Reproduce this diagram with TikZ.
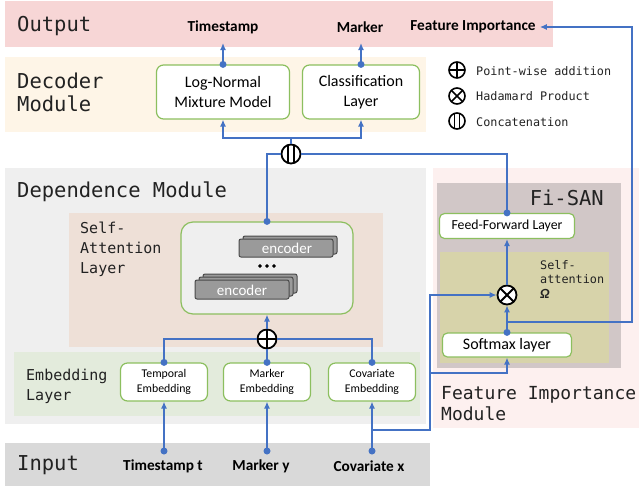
\documentclass[tikz,border=0pt]{standalone}
\usepackage{fontspec}
\setmainfont{Carlito}
\setmonofont{DejaVu Sans Mono}
\usetikzlibrary{arrows.meta,calc}
\definecolor{bOut}{HTML}{F7D6D6}
\definecolor{bDec}{HTML}{FEF5E7}
\definecolor{bDep}{HTML}{EFEFEF}
\definecolor{bSA}{HTML}{EEE0D7}
\definecolor{bEmb}{HTML}{E3EBDC}
\definecolor{bIn}{HTML}{D9D9D9}
\definecolor{bFI}{HTML}{FDF0EF}
\definecolor{bFS}{HTML}{D1C7C7}
\definecolor{bOl}{HTML}{D7D3AA}
\definecolor{gborder}{HTML}{8CBF5F}
\definecolor{lblue}{HTML}{4472C4}
\definecolor{encfill}{HTML}{9A9A9A}
\definecolor{encdraw}{HTML}{4A4A4A}
\definecolor{monotext}{HTML}{222222}
\tikzset{
  box/.style={draw=gborder, line width=1.2pt, fill=white, rounded corners=7pt, align=center, inner sep=2pt},
  arr/.style={draw=lblue, line width=1.3pt, -{Latex[length=7pt,width=6pt]}},
  ln/.style={draw=lblue, line width=1.3pt},
  dotc/.style={circle, fill=lblue, inner sep=0pt, minimum size=7pt},
  modlbl/.style={font=\ttfamily\fontsize{20.5}{23}\selectfont, text=monotext, align=left, anchor=west, inner sep=0pt},
  sublbl/.style={font=\ttfamily\fontsize{15}{20}\selectfont, text=monotext, align=left, anchor=west, inner sep=0pt},
  smalllbl/.style={font=\ttfamily\fontsize{11.8}{14.5}\selectfont, text=monotext, align=left, anchor=west, inner sep=0pt},
  outlbl/.style={font=\bfseries\fontsize{15.3}{17}\selectfont, inner sep=0pt},
  opsym/.style={circle, draw=black, line width=1.8pt, fill=white, minimum size=19pt, inner sep=0pt},
  enc/.style={draw=encdraw, line width=1pt, fill=encfill, rounded corners=2pt},
}
\begin{document}
\begin{tikzpicture}[x=1pt,y=-1pt]
\useasboundingbox (0,0) rectangle (639,488);
% background bands
\fill[bOut] (5,1) rectangle (553,47);
\fill[bDec] (5,57) rectangle (426,132);
\fill[bDep] (5,168) rectangle (426,424);
\fill[bSA] (69,213) rectangle (383,347);
\fill[bEmb] (14,352) rectangle (420,416);
\fill[bIn] (5,443) rectangle (430,486);
\fill[bFI] (433,168) rectangle (639,428);
\fill[bFS] (437,183) rectangle (621,368);
\fill[bOl] (440,252) rectangle (609,363);

% module labels
\node[modlbl] (lOut) at (17,26) {Output};
\node[modlbl] (lDec) at (17,92) {Decoder\\Module};
\node[modlbl] (lDep) at (17,192) {Dependence Module};
\node[modlbl] (lIn) at (17,465) {Input};
\node[sublbl] (lSA) at (80,249) {Self-\\Attention\\Layer};
\node[sublbl] (lEmb) at (26,386) {Embedding\\Layer};
\node[modlbl, anchor=east] (lFS) at (604,198) {Fi-SAN};
\node[smalllbl] (lSelf) at (540,279) {Self-\\attention\\{\rmfamily\bfseries\itshape\fontsize{14}{14}\selectfont Ω}};
\node[font=\ttfamily\fontsize{18}{21}\selectfont, text=monotext, align=left, anchor=west, inner sep=0pt] (lFI) at (441,404) {Feature Importance\\Module};

% output labels
\node[outlbl] (tsout) at (223,27) {Timestamp};
\node[outlbl] (mkout) at (360,27) {Marker};
\node[outlbl] (fiout) at (473,27) {Feature Importance};

% legend
\node[opsym, minimum size=16pt, line width=1.6pt, path picture={\draw[line width=1.6pt] (path picture bounding box.north) -- (path picture bounding box.south) (path picture bounding box.west) -- (path picture bounding box.east);}] (lg1) at (457,70) {};
\node[opsym, minimum size=16pt, line width=1.6pt, path picture={\draw[line width=1.6pt] (path picture bounding box.north west) -- (path picture bounding box.south east) (path picture bounding box.south west) -- (path picture bounding box.north east);}] (lg2) at (457,96) {};
\node[opsym, minimum size=16pt, line width=1.6pt, path picture={\draw[line width=1.6pt] ([xshift=-2.5pt]path picture bounding box.north) -- ([xshift=-2.5pt]path picture bounding box.south) ([xshift=2.5pt]path picture bounding box.north) -- ([xshift=2.5pt]path picture bounding box.south);}] (lg3) at (457,121) {};
\node[smalllbl] (lt1) at (476,71) {Point-wise addition};
\node[smalllbl] (lt2) at (476,96) {Hadamard Product};
\node[smalllbl] (lt3) at (476,122) {Concatenation};

% decoder nodes
\node[box, minimum width=133pt, minimum height=54pt, font=\fontsize{16}{20}\selectfont] (lnmm) at (223,92) {Log-Normal\\Mixture Model};
\node[box, minimum width=117pt, minimum height=54pt, font=\fontsize{16}{20}\selectfont] (cls) at (361,92) {Classification\\Layer};

% concat
\node[opsym, path picture={\draw[line width=1.8pt] ([xshift=-3pt]path picture bounding box.north) -- ([xshift=-3pt]path picture bounding box.south) ([xshift=3pt]path picture bounding box.north) -- ([xshift=3pt]path picture bounding box.south);}] (cat) at (291,154) {};

% self-attention block
\node[box, fill=bDep, minimum width=172pt, minimum height=92pt, rounded corners=12pt] (sa) at (267,268) {};
\draw[enc] (243,236) rectangle (337,254);
\draw[enc] (239,239) rectangle (333,257);
\node[text=white, font=\fontsize{15}{16}\selectfont, inner sep=0pt] (e1) at (287,248) {encoder};
\draw[fill=black] (260,266) circle (1.6pt) (267,266) circle (1.6pt) (274,266) circle (1.6pt);
\draw[enc] (203,274) rectangle (297,293);
\draw[enc] (199,277) rectangle (293,296);
\draw[enc] (195,280) rectangle (289,299);
\node[text=white, font=\fontsize{15}{16}\selectfont, inner sep=0pt] (e2) at (242,290) {encoder};

% addition
\node[opsym, path picture={\draw[line width=1.8pt] (path picture bounding box.north) -- (path picture bounding box.south) (path picture bounding box.west) -- (path picture bounding box.east);}] (add) at (267,339) {};

% embeddings
\node[box, minimum width=87pt, minimum height=38pt, font=\fontsize{11.8}{14.5}\selectfont] (temb) at (164,382) {Temporal\\Embedding};
\node[box, minimum width=87pt, minimum height=38pt, font=\fontsize{11.8}{14.5}\selectfont] (memb) at (267,382) {Marker\\Embedding};
\node[box, minimum width=87pt, minimum height=38pt, font=\fontsize{11.8}{14.5}\selectfont] (cemb) at (372,382) {Covariate\\Embedding};

% inputs
\node[outlbl] (tin) at (163,466) {Timestamp t};
\node[outlbl] (yin) at (261,466) {Marker y};
\node[outlbl] (xin) at (369,466) {Covariate x};
\coordinate (tdot) at (164,451);
\coordinate (ydot) at (267,451);
\coordinate (xdot) at (372,451);

% Fi-SAN nodes
\node[box, minimum width=135pt, minimum height=25pt, rounded corners=5pt, font=\fontsize{13.8}{16}\selectfont] (ff) at (507,226) {Feed-Forward Layer};
\node[box, minimum width=129pt, minimum height=24pt, rounded corners=5pt, font=\fontsize{16}{17}\selectfont] (sm) at (507,345) {Softmax layer};
\node[opsym, path picture={\draw[line width=1.8pt] (path picture bounding box.north west) -- (path picture bounding box.south east) (path picture bounding box.south west) -- (path picture bounding box.north east);}] (otm) at (507,295) {};

% coordinates for routing
\coordinate (split) at (291,138);
\coordinate (cb) at (372,430);
\coordinate (c1) at (430,430);
\coordinate (c2) at (430,295);
\coordinate (c3) at (430,373);
\coordinate (fb) at (507,322);
\coordinate (c4) at (632,322);
\coordinate (c5) at (632,27);

% connectors
\draw[arr] (lnmm.north) -- (lnmm.north |- 0,43);
\draw[arr] (cls.north) -- (cls.north |- 0,43);
\node[dotc] at (lnmm.north) {};
\node[dotc] at (cls.north) {};

\draw[ln] (cat.north) -- (split);
\draw[arr] (split) -| (lnmm.south);
\draw[arr] (split) -| (cls.south);
\draw[ln] (sa.north) |- (cat.west);
\draw[ln] (ff.north) |- (cat.east);
\node[dotc] at (sa.north) {};
\node[dotc] at (ff.north) {};

\draw[arr] (add.north) -- (sa.south);
\draw[ln] (temb.north) |- (add.west);
\draw[ln] (cemb.north) |- (add.east);
\draw[ln] (memb.north) -- (add.south);
\node[dotc] at (temb.north) {};
\node[dotc] at (memb.north) {};
\node[dotc] at (cemb.north) {};

\draw[arr] (tdot) -- (temb.south);
\draw[arr] (ydot) -- (memb.south);
\draw[arr] (xdot) -- (cemb.south);
\node[dotc] at (tdot) {};
\node[dotc] at (ydot) {};
\node[dotc] at (xdot) {};

\draw[arr] (cb) -- (c1) -- (c2) -- (otm.west);
\draw[arr] (c3) -| (sm.south);
\draw[arr] (sm.north) -- (otm.south);
\node[dotc] at (sm.north) {};
\draw[arr] (fb) -- (c4) -- (c5) -- ([xshift=4pt]fiout.east);
\draw[arr] (otm.north) -- (ff.south);
\end{tikzpicture}
\end{document}
